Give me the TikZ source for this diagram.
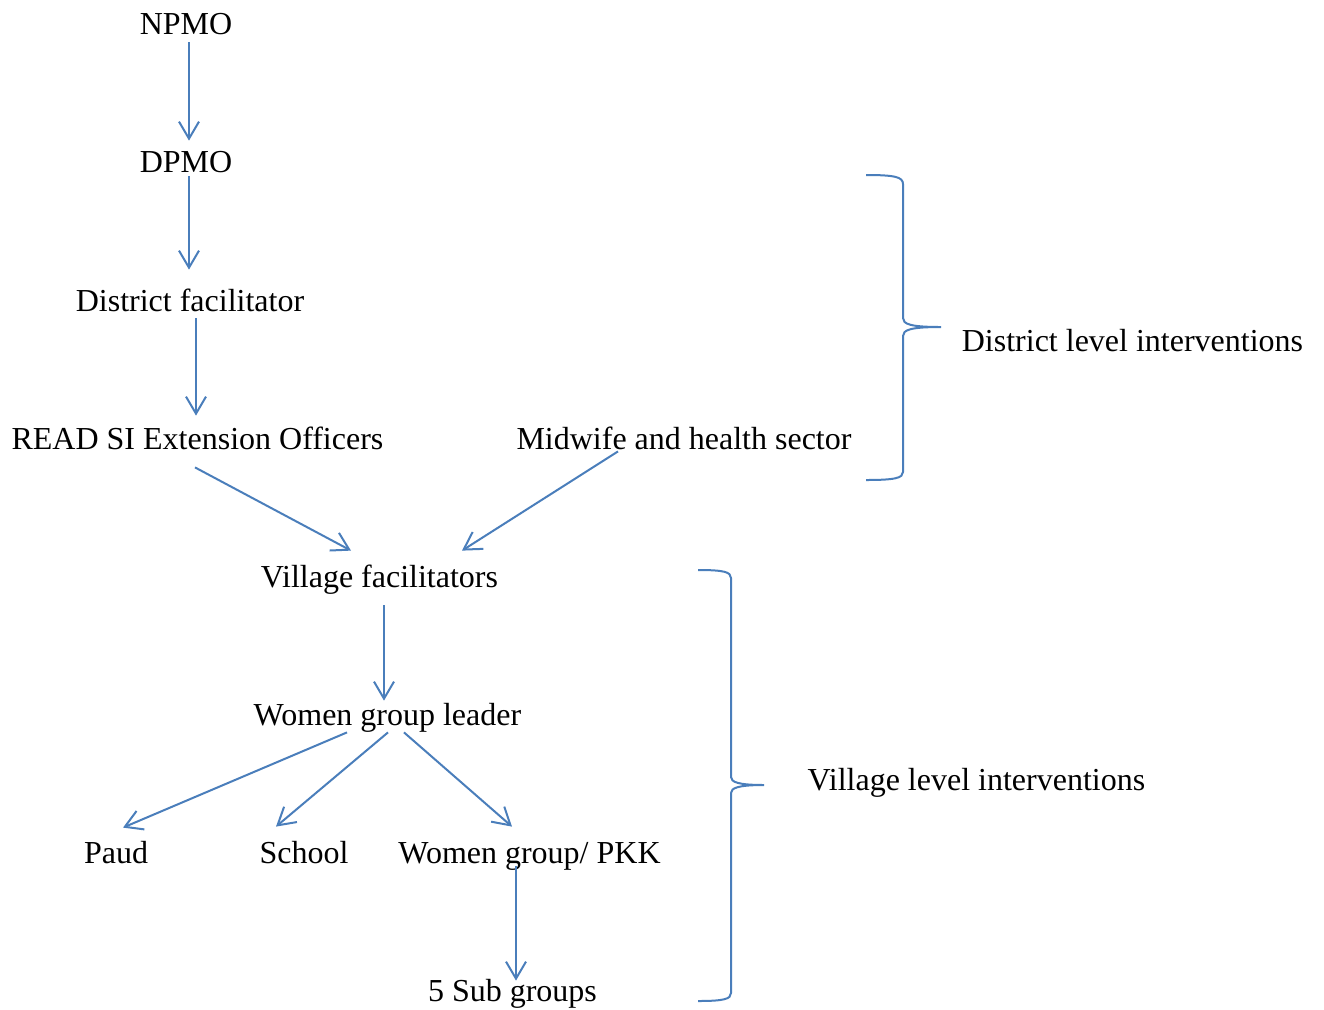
\documentclass[tikz,border=0pt]{standalone}
\usepackage{fontspec}
\setmainfont{Liberation Serif}
\usetikzlibrary{arrows.meta}
\definecolor{linkblue}{RGB}{74,126,187}
\begin{document}
\begin{tikzpicture}[x=0.5pt,y=-0.5pt,
            lbl/.style={font=\fontsize{16}{19}\selectfont,inner sep=0pt,text height=11.2pt,text depth=3.5pt,anchor=base},
            arr/.style={draw=linkblue,line width=1pt,-{Straight Barb[length=8.5pt,width=10pt]}},
            brc/.style={draw=linkblue,line width=1pt},
        ]
    \useasboundingbox (0,0) rectangle (1324,1009);

    \node[lbl] (npmo) at (186,34) {NPMO};
    \node[lbl] (dpmo) at (186,172) {DPMO};
    \draw[arr] ([shift={(3,1)}]npmo.south) -- ([shift={(3,-8.6)}]dpmo.north);
    \node[lbl] (distfac) at (190,311) {District facilitator};
    \draw[arr] ([shift={(3,-3)}]dpmo.south) -- ([shift={(-1,-18.6)}]distfac.north);
    \node[lbl] (readsi) at (197.5,449) {READ SI Extension Officers};
    \draw[arr] ([shift={(6,0)}]distfac.south) -- ([shift={(-1.5,-10.6)}]readsi.north);
    \node[lbl] (midwife) at (684,449) {Midwife and health sector};

    \node[lbl] (vilfac) at (379.5,587) {Village facilitators};
    \draw[arr] ([shift={(-2.5,11)}]readsi.south) -- ([shift={(-28.5,-13.6)}]vilfac.north);
    \draw[arr] ([shift={(-66,-5)}]midwife.south) -- ([shift={(82.5,-13.6)}]vilfac.north);
    \node[lbl] (wgl) at (387.5,725) {Women group leader};
    \draw[arr] ([shift={(4.5,11)}]vilfac.south) -- ([shift={(-3.5,-1.6)}]wgl.north);

    \node[lbl] (paud) at (116,863) {Paud};
    \node[lbl] (school) at (304,863) {School};
    \node[lbl] (wgroup) at (529.5,863) {Women group/ PKK};
    \draw[arr] ([shift={(-40.5,0)}]wgl.south) -- ([shift={(7,-12.6)}]paud.north);
    \draw[arr] ([shift={(0.5,0)}]wgl.south) -- ([shift={(-28,-13.6)}]school.north);
    \draw[arr] ([shift={(16.5,0)}]wgl.south) -- ([shift={(-17.5,-13.6)}]wgroup.north);
    \node[lbl] (subgr) at (512.5,1001) {5 Sub groups};
    \draw[arr] ([shift={(-13.5,-4)}]wgroup.south) -- ([shift={(3.5,2.4)}]subgr.north);

    \draw[brc] (866,175) .. controls (895,175) and (903,177) .. (903,184) -- (903,318)
        .. controls (903,324) and (910,327) .. (941,327)
        .. controls (910,327) and (903,330) .. (903,336) -- (903,472)
        .. controls (903,478) and (895,480) .. (866,480);
    \node[lbl] (distlvl) at (1132.5,351) {District level interventions};

    \draw[brc] (698,570) .. controls (724,570) and (731,572) .. (731,578) -- (731,777)
        .. controls (731,782) and (738,785) .. (764,785)
        .. controls (738,785) and (731,788) .. (731,793) -- (731,993)
        .. controls (731,999) and (724,1001) .. (698,1001);
    \node[lbl] (villvl) at (976.5,790) {Village level interventions};
\end{tikzpicture}
\end{document}
